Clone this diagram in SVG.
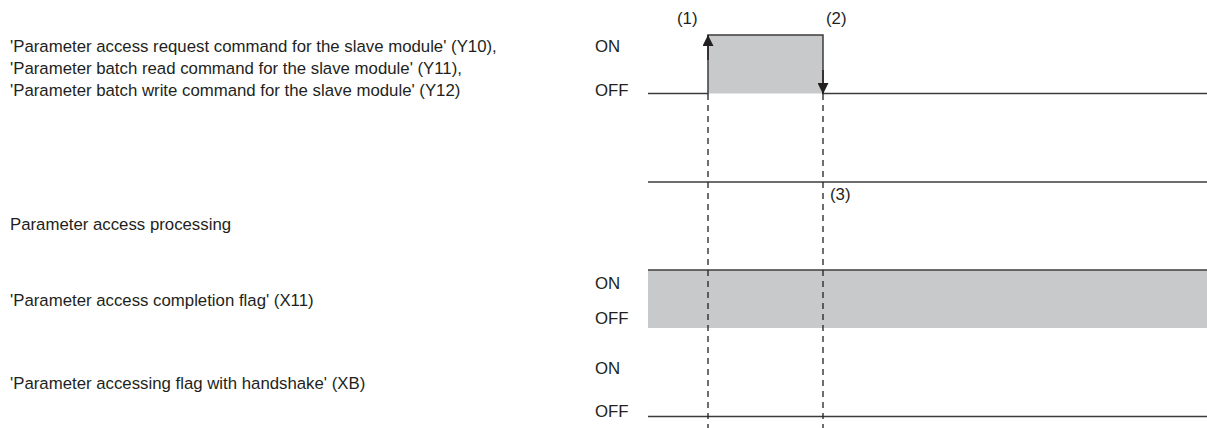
<svg xmlns="http://www.w3.org/2000/svg" width="1207" height="428" viewBox="0 0 1207 428">
<style>
text{font-family:"Liberation Sans",Arial,sans-serif;font-size:16.8px;fill:#231f20}
.sig{fill:none;stroke:#3c3c3c;stroke-width:1.5}
.fill{fill:#c8c9cb;stroke:none}
.dash{fill:none;stroke:#231f20;stroke-width:1.3;stroke-dasharray:6 5}
.arr{fill:none;stroke:#231f20;stroke-width:1.5}
</style>
<defs>
<marker id="ah" viewBox="0 0 10 10" refX="10" refY="5" markerWidth="11" markerHeight="11" markerUnits="userSpaceOnUse" orient="auto"><path d="M0,0 L10,5 L0,10 Z" fill="#231f20"/></marker>
</defs>
<g id="labels">
<text x="10" y="52">'Parameter access request command for the slave module' (Y10),</text>
<text x="10" y="74">'Parameter batch read command for the slave module' (Y11),</text>
<text x="10" y="96">'Parameter batch write command for the slave module' (Y12)</text>
<text x="10" y="230">Parameter access processing</text>
<text x="10" y="306">'Parameter access completion flag' (X11)</text>
<text x="10" y="389">'Parameter accessing flag with handshake' (XB)</text>
</g>
<g id="sig1">
<rect class="fill" x="708" y="35" width="115" height="58.5"/>
<path class="sig" d="M648,93.5 H708 V35 H823 V93.5 H1207"/>
<text x="595" y="52">ON</text>
<text x="595" y="96">OFF</text>
</g>
<g id="sig2">
<path class="sig" d="M648,182 H1207"/>
</g>
<g id="sig3">
<rect class="fill" x="648" y="270" width="559" height="58"/>
<path class="sig" d="M648,270 H1207"/>
<text x="595" y="289">ON</text>
<text x="595" y="324">OFF</text>
</g>
<g id="sig4">
<path class="sig" d="M648,416.5 H1207"/>
<text x="595" y="374">ON</text>
<text x="595" y="417">OFF</text>
</g>
<g id="connectors">
<path class="dash" d="M708,94 V428"/>
<path class="dash" d="M823,94 V428"/>
<path class="arr" d="M708,60 V35" marker-end="url(#ah)"/>
<path class="arr" d="M823,70 V94" marker-end="url(#ah)"/>
</g>
<g id="marks">
<text x="677" y="24">(1)</text>
<text x="826" y="24">(2)</text>
<text x="830" y="200">(3)</text>
</g>
</svg>
